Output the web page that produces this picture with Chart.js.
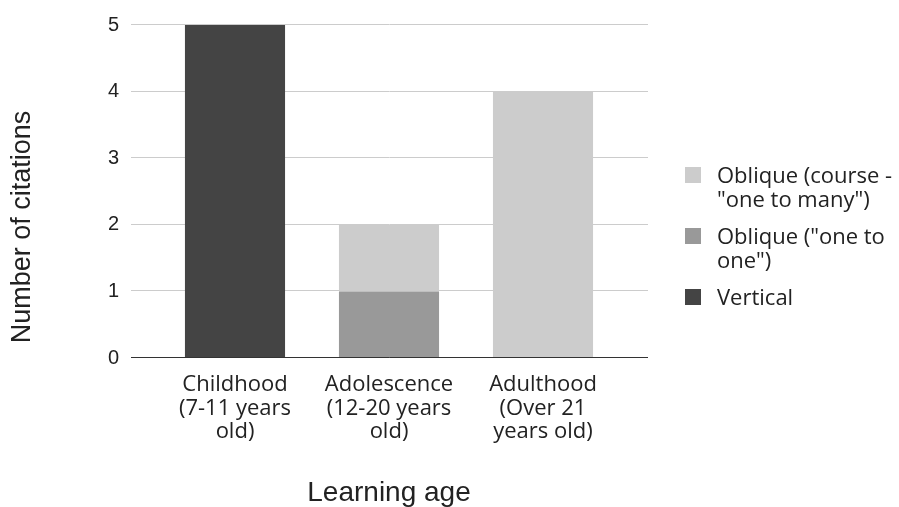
<!DOCTYPE html>
<html lang="en">
<head>
    <meta charset="UTF-8">
    <title>Learning age</title>
    <script src="https://cdn.jsdelivr.net/npm/chart.js"></script>
    <style>
        html, body {
            margin: 0;
            padding: 0;
            background-color: #ffffff;
        }
        #chart-container {
            width: 899px;
            height: 507px;
        }
    </style>
</head>
<body>
    <div id="chart-container">
        <canvas id="ageChart"></canvas>
    </div>

    <script>
        // categories (already wrapped the way the labels appear)
        const categories = [
            ['Childhood', '(7-11 years', 'old)'],
            ['Adolescence', '(12-20 years', 'old)'],
            ['Adulthood', '(Over 21', 'years old)']
        ];
        const seriesNames = ['Vertical', 'Oblique ("one to one")', 'Oblique (course - "one to many")'];
        const verticalValues = [5, 0, 0];
        const oneToOneValues = [0, 1, 0];
        const courseValues = [0, 1, 4];
        const yTicks = [0, 1, 2, 3, 4, 5];

        // gridlines run a bit past the bars on both sides, zero line is dark
        const extendedGrid = {
            id: 'extendedGrid',
            beforeDatasetsDraw(chart) {
                const { ctx, chartArea, scales } = chart;
                ctx.save();
                ctx.lineWidth = 1;
                ctx.strokeStyle = '#cccccc';
                scales.y.ticks.forEach(t => {
                    if (t.value === 0) return;
                    const py = Math.round(scales.y.getPixelForValue(t.value)) - 0.5;
                    ctx.beginPath();
                    ctx.moveTo(chartArea.left - 27, py);
                    ctx.lineTo(chartArea.right + 28, py);
                    ctx.stroke();
                });
                ctx.restore();
            },
            afterDatasetsDraw(chart) {
                const { ctx, chartArea, scales } = chart;
                const py = Math.round(scales.y.getPixelForValue(0)) - 0.5;
                ctx.save();
                ctx.lineWidth = 1;
                ctx.strokeStyle = '#333333';
                ctx.beginPath();
                ctx.moveTo(chartArea.left - 27, py);
                ctx.lineTo(chartArea.right + 28, py);
                ctx.stroke();
                ctx.restore();
            }
        };

        // y title + legend on the right (legend lists top series first, wrapped)
        const sideText = {
            id: 'sideText',
            afterDraw(chart) {
                const ctx = chart.ctx;
                ctx.save();

                ctx.fillStyle = '#222222';
                ctx.font = '27px "Liberation Sans", Arial, sans-serif';
                ctx.textAlign = 'center';
                ctx.textBaseline = 'middle';
                ctx.translate(22.5, 227);
                ctx.rotate(-Math.PI / 2);
                ctx.fillText('Number of citations', 0, 0);
                ctx.setTransform(1, 0, 0, 1, 0, 0);

                ctx.font = '22px "Open Sans", sans-serif';
                ctx.textAlign = 'left';
                ctx.textBaseline = 'alphabetic';
                const boxX = 685, textX = 717, maxW = 182;
                const lineH = 24, itemGap = 37;
                let baseline = 183;
                const items = chart.data.datasets.slice().reverse();
                items.forEach(ds => {
                    const words = ds.label.split(' ');
                    const lines = [];
                    let cur = '';
                    words.forEach(w => {
                        const test = cur ? cur + ' ' + w : w;
                        if (cur && ctx.measureText(test).width > maxW) {
                            lines.push(cur);
                            cur = w;
                        } else {
                            cur = test;
                        }
                    });
                    lines.push(cur);

                    ctx.fillStyle = ds.backgroundColor;
                    ctx.fillRect(boxX, baseline - 16, 16, 16);
                    ctx.fillStyle = '#222222';
                    lines.forEach((ln, i) => {
                        ctx.fillText(ln, textX, baseline + i * lineH);
                    });
                    baseline += (lines.length - 1) * lineH + itemGap;
                });
                ctx.restore();
            }
        };

        new Chart(document.getElementById('ageChart'), {
            type: 'bar',
            data: {
                labels: categories,
                datasets: [
                    { label: seriesNames[0], data: verticalValues, backgroundColor: '#444444' },
                    { label: seriesNames[1], data: oneToOneValues, backgroundColor: '#999999' },
                    { label: seriesNames[2], data: courseValues, backgroundColor: '#cccccc' }
                ]
            },
            options: {
                responsive: true,
                maintainAspectRatio: false,
                animation: false,
                layout: {
                    padding: { top: 25, right: 279, bottom: 0, left: 0 }
                },
                datasets: {
                    bar: { categoryPercentage: 1, barPercentage: 0.65 }
                },
                plugins: {
                    legend: { display: false },
                    tooltip: { enabled: false }
                },
                scales: {
                    x: {
                        stacked: true,
                        grid: { display: false, drawTicks: false },
                        border: { display: false },
                        ticks: {
                            color: '#222222',
                            font: { family: 'Open Sans', size: 22, lineHeight: 1.07 },
                            padding: 15,
                            maxRotation: 0,
                            autoSkip: false
                        },
                        title: {
                            display: true,
                            text: 'Learning age',
                            color: '#222222',
                            font: { family: 'Liberation Sans', size: 28, lineHeight: 1 },
                            padding: { top: 0, bottom: 0 }
                        },
                        afterFit(scale) { scale.height = 149; }
                    },
                    y: {
                        stacked: true,
                        min: yTicks[0],
                        max: yTicks[yTicks.length - 1],
                        // tick marks are not drawn, their length only pushes the labels left
                        grid: { display: false, drawTicks: true, tickLength: 39 },
                        border: { display: false },
                        ticks: {
                            stepSize: 1,
                            color: '#222222',
                            font: { family: 'Liberation Sans', size: 20 },
                            padding: 0
                        },
                        afterFit(scale) { scale.width = 158; }
                    }
                }
            },
            plugins: [extendedGrid, sideText]
        });
    </script>
</body>
</html>
